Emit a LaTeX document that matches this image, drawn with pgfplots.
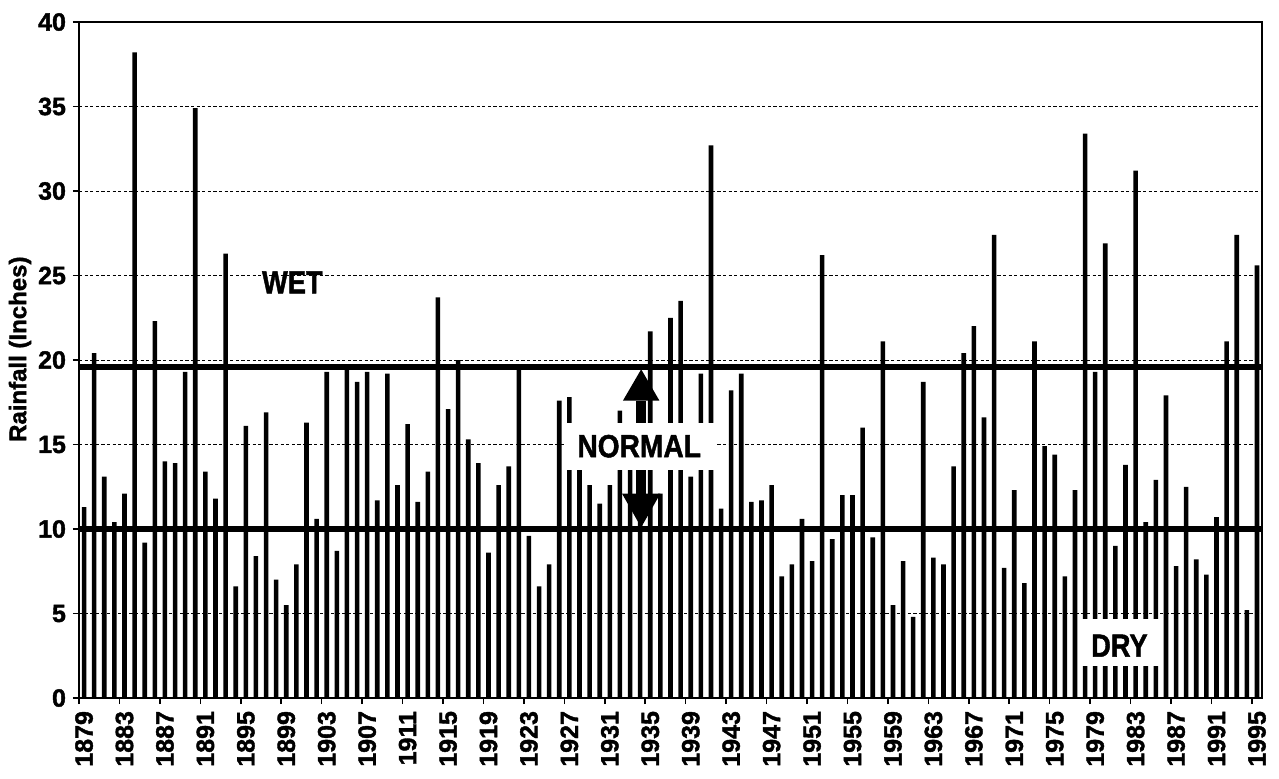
\documentclass[border=0pt]{standalone}
\usepackage{pgfplots}
\pgfplotsset{compat=1.18}
\usepackage{pgfplotstable}
\usepackage{fontspec}
\setmainfont{Liberation Sans}[BoldFeatures={FakeBold=1.5}]

\pgfplotstableread{
year val
1879 11.3
1880 20.4
1881 13.1
1882 10.4
1883 12.1
1884 38.2
1885 9.2
1886 22.3
1887 14.0
1888 13.9
1889 19.3
1890 34.9
1891 13.4
1892 11.8
1893 26.3
1894 6.6
1895 16.1
1896 8.4
1897 16.9
1898 7.0
1899 5.5
1900 7.9
1901 16.3
1902 10.6
1903 19.3
1904 8.7
1905 19.4
1906 18.7
1907 19.3
1908 11.7
1909 19.2
1910 12.6
1911 16.2
1912 11.6
1913 13.4
1914 23.7
1915 17.1
1916 20.0
1917 15.3
1918 13.9
1919 8.6
1920 12.6
1921 13.7
1922 19.5
1923 9.6
1924 6.6
1925 7.9
1926 17.6
1927 17.8
1928 15.0
1929 12.6
1930 11.5
1931 12.6
1932 17.0
1933 15.5
1934 16.0
1935 21.7
1936 12.1
1937 22.5
1938 23.5
1939 13.1
1940 19.2
1941 32.7
1942 11.2
1943 18.2
1944 19.2
1945 11.6
1946 11.7
1947 12.6
1948 7.2
1949 7.9
1950 10.6
1951 8.1
1952 26.2
1953 9.4
1954 12.0
1955 12.0
1956 16.0
1957 9.5
1958 21.1
1959 5.5
1960 8.1
1961 4.8
1962 18.7
1963 8.3
1964 7.9
1965 13.7
1966 20.4
1967 22.0
1968 16.6
1969 27.4
1970 7.7
1971 12.3
1972 6.8
1973 21.1
1974 14.9
1975 14.4
1976 7.2
1977 12.3
1978 33.4
1979 19.3
1980 26.9
1981 9.0
1982 13.8
1983 31.2
1984 10.4
1985 12.9
1986 17.9
1987 7.8
1988 12.5
1989 8.2
1990 7.3
1991 10.7
1992 21.1
1993 27.4
1994 5.2
1995 25.6
}\raindata

\begin{document}
\begin{tikzpicture}
\begin{axis}[
  at={(0,0)}, anchor=south west,
  scale only axis, width=591.5pt, height=338pt,
  xmin=1878.5, xmax=1995.5, ymin=0, ymax=40,
  ytick={0,5,...,40},
  xtick={1879,1883,...,1995},
  minor xtick={1878.5,1882.5,...,1994.5},
  major x tick style={draw=none},
  minor x tick style={black, line width=0.8pt},
  y tick style={black, line width=0.8pt},
  major tick length=3pt, minor tick length=3pt,
  tick align=outside, xtick pos=bottom, ytick pos=left,
  ymajorgrids,
  grid style={black, line width=0.5pt, dash pattern=on 1.6pt off 1.2pt},
  axis line style={line width=0.9pt},
  /pgf/number format/assume math mode=true,
  /pgf/number format/1000 sep={},
  ticklabel style={font=\fontsize{12.5}{14}\selectfont\bfseries},
  xticklabel style={rotate=90, anchor=east},
  ylabel={Rainfall (Inches)},
  ylabel style={at={(axis description cs:-0.0499,0.516)}, anchor=center, font=\fontsize{12}{14}\selectfont\bfseries},
]
\addplot[ybar, bar width=2.3pt, fill=black, draw=none] table[x=year, y=val] {\raindata};
\addplot[black, line width=3.2pt, sharp plot, no marks] coordinates {(1878.5,19.6) (1995.5,19.6)};
\addplot[black, line width=3.2pt, sharp plot, no marks] coordinates {(1878.5,10.0) (1995.5,10.0)};

% annotations
\node[font=\fontsize{16}{16}\selectfont\bfseries] at (axis cs:1899.6,24.6) {\scalebox{0.85}[1]{WET}};
\fill[white] (axis cs:1926.5,13.5) rectangle (axis cs:1941.5,16.3);
\node[font=\fontsize{16}{16}\selectfont\bfseries] at (axis cs:1933.9,14.9) {\scalebox{0.88}[1]{NORMAL}};
\fill[black] (axis cs:1932.3,17.6) -- (axis cs:1934.1,19.45) -- (axis cs:1935.9,17.6) -- cycle;
\fill[black] (axis cs:1933.6,16.3) rectangle (axis cs:1934.6,17.6);
\fill[black] (axis cs:1933.6,13.5) rectangle (axis cs:1934.6,12.1);
\fill[black] (axis cs:1932.2,12.1) -- (axis cs:1934.1,10.1) -- (axis cs:1936.0,12.1) -- cycle;
\fill[white] (axis cs:1977.5,1.9) rectangle (axis cs:1985.5,4.7);
\node[font=\fontsize{16}{16}\selectfont\bfseries] at (axis cs:1981.4,3.1) {\scalebox{0.85}[1]{DRY}};
\end{axis}
\pgfresetboundingbox
\path[use as bounding box] (-39.5pt,-40pt) rectangle (600pt,349pt);
\end{tikzpicture}
\end{document}
